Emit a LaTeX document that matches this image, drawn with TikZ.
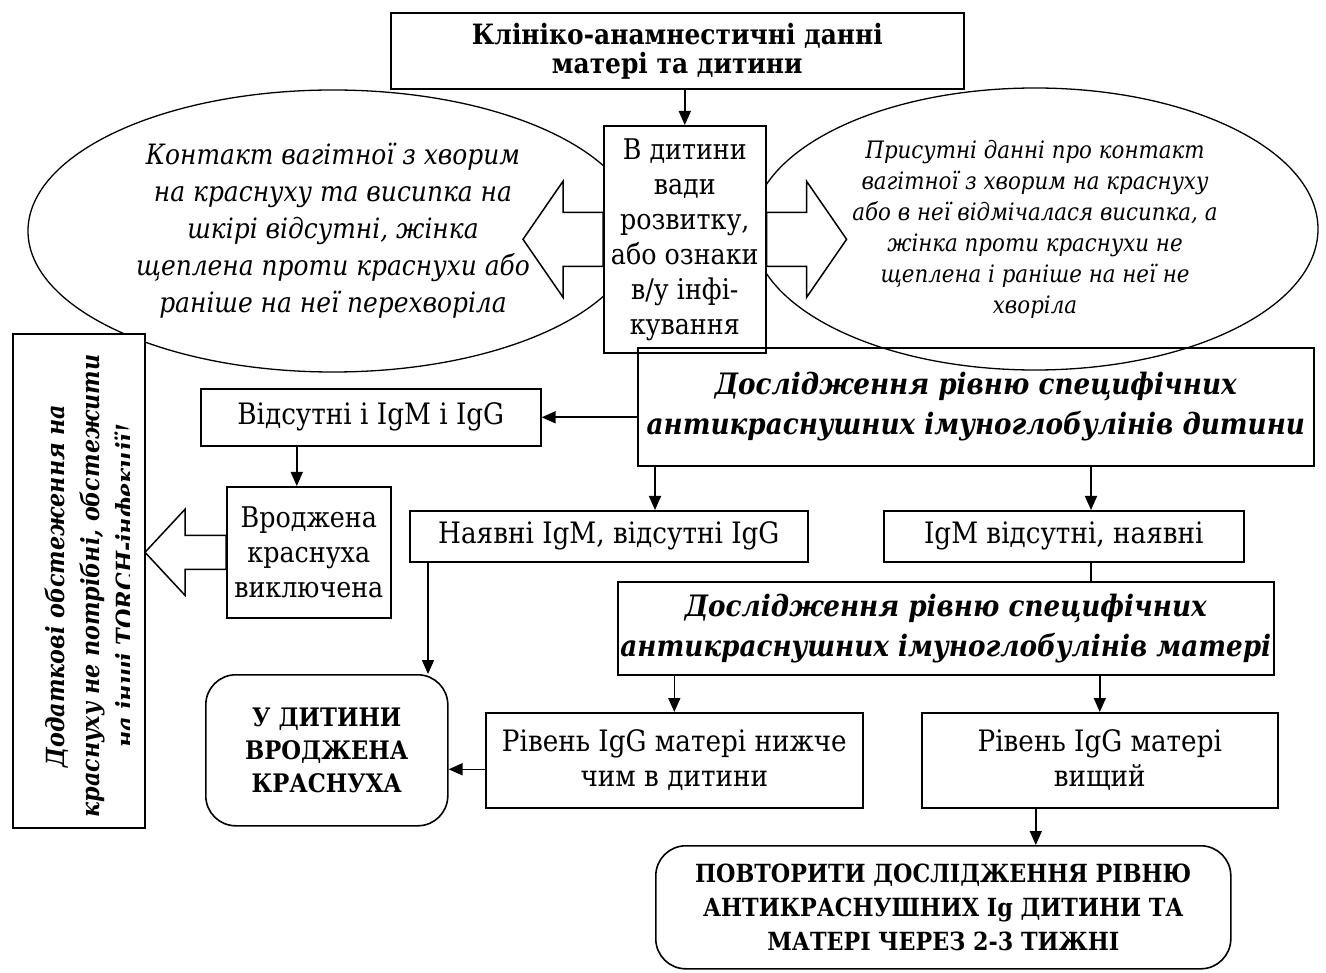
\documentclass[tikz,border=0pt]{standalone}
\usepackage{fontspec}
\setmainfont{DejaVu Serif}[FakeStretch=0.89]
\usetikzlibrary{arrows.meta,calc,shapes.geometric}
\newcommand\fsz[2]{\fontsize{#1}{#2}\selectfont}
\begin{document}
\begin{tikzpicture}[x=1pt,y=-1pt,
  box/.style={draw,line width=1.6pt,inner sep=0pt,align=center,anchor=north west},
  rbox/.style={box,rounded corners=30pt},
  oval/.style={draw,ellipse,line width=1.3pt,inner sep=0pt,align=center},
  arr/.style={line width=1.6pt,-{Triangle[length=14pt,width=12pt]}},
  link/.style={line width=1.6pt},
  blk/.style={draw,line width=1.5pt,fill=white,line join=miter},
  reg/.style={font=\fsz{29.5}{35}},
  head/.style={font=\bfseries\itshape\fsz{29.5}{40}},
  caps/.style={font=\bfseries\fsz{25.5}{33}}
]
\useasboundingbox (0,0) rectangle (1326,973);

% the two outcome ovals behind the central box
\node[oval,minimum width=610pt,minimum height=282pt,
      font={\itshape\fsz{28}{37}}] (lov) at (333,231)
  {Контакт вагітної з хворим\\на краснуху та висипка на\\шкірі відсутні, жінка\\щеплена проти краснухи або\\раніше на неї перехворіла};
\node[oval,minimum width=566pt,minimum height=282pt,
      font={\itshape\fsz{24}{31}}] (rov) at (1035,229)
  {Присутні данні про контакт\\вагітної з хворим на краснуху\\або в неї відмічалася висипка, а\\жінка проти краснухи не\\щеплена і раніше на неї не\\хворіла};

% title and central question
\node[box,minimum width=573pt,minimum height=76pt,
      font={\bfseries\fsz{28}{29}}] (top) at (390,12)
  {Клініко-анамнестичні данні\\матері та дитини};
\node[box,fill=white,minimum width=162pt,minimum height=227pt,
      font={\fsz{28.5}{35}}] (ctr) at (603,125)
  {В дитини\\вади\\розвитку,\\або ознаки\\в/у інфі-\\кування};

% wide arrows into the ovals
\draw[blk] (ctr.west) ++(0,-27) -- ++(-40,0) -- ++(0,-31) -- ++(-40,58)
  -- ++(40,58) -- ++(0,-31) -- ++(40,0) -- cycle;
\draw[blk] (ctr.east) ++(0,-27) -- ++(40,0) -- ++(0,-31) -- ++(40,58)
  -- ++(-40,58) -- ++(0,-31) -- ++(-40,0) -- cycle;

% side note, last line clipped by the frame margin
\node[box,fill=white,minimum width=132pt,minimum height=494pt] (side) at (12,333) {};
\begin{scope}
  \clip (side.north west) rectangle ([xshift=-16pt]side.south east);
  \node[rotate=90,align=center,inner sep=0pt,
        font={\bfseries\itshape\fsz{25}{35}}] (sidetxt) at (92,586)
    {Додаткові обстеження на\\краснуху не потрібні, обстежити\\на інші TORCH-інфекції!};
\end{scope}

% laboratory branch
\node[box,minimum width=340pt,minimum height=57pt,reg] (abs) at (200,388)
  {Відсутні і IgM і IgG};
\node[box,minimum width=676pt,minimum height=118pt,head] (dyt) at (637,347)
  {Дослідження рівню специфічних\\антикраснушних імуноглобулінів дитини};
\node[box,minimum width=164pt,minimum height=131pt,font={\fsz{28.5}{35}}] (vrod) at (226,486)
  {Вроджена\\краснуха\\виключена};
\node[box,minimum width=398pt,minimum height=51pt,reg] (nay) at (409,510)
  {Наявні IgM, відсутні IgG};
\node[box,minimum width=360pt,minimum height=51pt,reg] (igm) at (883,510)
  {IgM відсутні, наявні};
\node[box,minimum width=656pt,minimum height=93pt,head] (mat) at (617,581)
  {Дослідження рівню специфічних\\антикраснушних імуноглобулінів матері};
\node[rbox,minimum width=242pt,minimum height=151pt,caps] (krasn) at (205,674)
  {У ДИТИНИ\\ВРОДЖЕНА\\КРАСНУХА};
\node[box,minimum width=377pt,minimum height=95pt,reg] (nyzh) at (485,712)
  {Рівень IgG матері нижче\\чим в дитини};
\node[box,minimum width=356pt,minimum height=95pt,reg] (vysh) at (921,712)
  {Рівень IgG матері\\вищий};
\node[rbox,minimum width=575pt,minimum height=123pt,
      font={\bfseries\fsz{25}{34}}] (povt) at (655,845)
  {ПОВТОРИТИ ДОСЛІДЖЕННЯ РІВНЮ\\АНТИКРАСНУШНИХ Ig ДИТИНИ ТА\\МАТЕРІ ЧЕРЕЗ 2-3 ТИЖНІ};

% wide arrow towards the side note
\draw[blk] (vrod.west) ++(0,-17) -- ++(-41,0) -- ++(0,-26) -- ++(-40,43)
  -- ++(40,43) -- ++(0,-26) -- ++(41,0) -- cycle;

% connectors
\coordinate (igx) at (1091,0);
\coordinate (nyx) at (428,0);
\draw[arr] (ctr.north |- top.south) -- (ctr.north);
\draw[arr] (dyt.west |- abs.east) -- (abs.east);
\draw[arr] ([xshift=-12pt]vrod.north |- abs.south) -- ([xshift=-12pt]vrod.north);
\draw[arr] ([xshift=18pt]dyt.south west) -- ([xshift=18pt]dyt.south west |- nay.north);
\draw[arr] (igx |- dyt.south) -- (igx |- igm.north);
\draw[link] (igx |- igm.south) -- (igx |- mat.north);
\draw[arr] (nyx |- nay.south) -- (nyx |- krasn.north);
\draw[arr] (nyzh.north |- mat.south) -- (nyzh.north);
\draw[arr] (vysh.north |- mat.south) -- (vysh.north);
\draw[arr] ([yshift=-9pt]nyzh.west) -- ([yshift=-9pt]nyzh.west -| krasn.east);
\draw[arr] ([xshift=-64pt]vysh.south) -- ([xshift=-64pt]vysh.south |- povt.north);
\end{tikzpicture}
\end{document}
